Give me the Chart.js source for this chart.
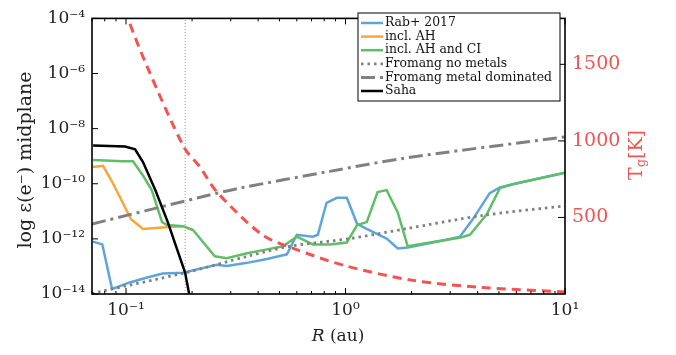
<!DOCTYPE html>
<html>
<head>
<meta charset="utf-8">
<script src="https://cdn.jsdelivr.net/npm/chart.js@4.4.0/dist/chart.umd.min.js"></script>
<style>
  html, body { margin: 0; padding: 0; background: #fff; }
</style>
</head>
<body>
<canvas id="mychart" width="676" height="355"></canvas>
<script>
// data (R in au, electron abundance as log10 values, T in K)
var rabR = [0.0707, 0.078, 0.0864, 0.104, 0.125, 0.147, 0.182, 0.259, 0.288, 0.356, 0.439, 0.541, 0.60, 0.71, 0.748, 0.82, 0.913, 1.014, 1.13, 1.39, 1.54, 1.73, 1.92, 2.89, 3.32, 3.8, 4.54, 5.05, 5.78, 6.9, 10];
var rabLogE = [-12.10, -12.20, -13.82, -13.58, -13.40, -13.26, -13.23, -12.94, -12.98, -12.87, -12.73, -12.56, -11.85, -11.92, -11.85, -10.69, -10.51, -10.51, -11.46, -11.82, -11.99, -12.35, -12.31, -12.03, -11.92, -11.29, -10.34, -10.13, -10.02, -9.88, -9.60];

var ahR = [0.0705, 0.0786, 0.0873, 0.1054, 0.1195, 0.155, 0.182, 0.202];
var ahLogE = [-9.39, -9.35, -9.99, -11.29, -11.64, -11.57, -11.54, -11.68];

var ciR = [0.0708, 0.097, 0.1076, 0.1195, 0.131, 0.146, 0.154, 0.182, 0.202, 0.254, 0.288, 0.356, 0.439, 0.519, 0.60, 0.71, 0.85, 1.014, 1.13, 1.25, 1.40, 1.54, 1.73, 1.92, 2.89, 3.32, 3.69, 4.40, 5.05, 5.78, 6.9, 10];
var ciLogE = [-9.14, -9.18, -9.18, -9.70, -10.23, -11.39, -11.50, -11.54, -11.68, -12.63, -12.70, -12.52, -12.38, -12.27, -11.92, -12.20, -12.20, -12.13, -11.50, -11.39, -10.30, -10.23, -11.04, -12.27, -12.03, -11.96, -11.85, -11.11, -10.16, -10.02, -9.88, -9.60];

var noMetR = [0.07, 0.0745, 0.186, 0.359, 0.557, 1.046, 1.86, 4.22, 10];
var noMetLogE = [-14.0, -13.93, -13.23, -12.63, -12.27, -11.99, -11.64, -11.15, -10.80];

var metR = [0.07, 0.213, 0.330, 0.848, 1.86, 10];
var metLogE = [-11.46, -10.51, -10.16, -9.55, -9.07, -8.30];

var sahaR = [0.0708, 0.099, 0.110, 0.1195, 0.136, 0.155, 0.186, 0.195, 0.2];
var sahaLogE = [-8.61, -8.65, -8.75, -9.21, -10.23, -11.39, -13.23, -14.1, -14.4];

var tempR = [0.095, 0.102, 0.125, 0.184, 0.217, 0.26, 0.417, 0.577, 1.0, 2.03, 4.07, 10];
var tempK = [1950, 1800, 1483, 957, 830, 665, 387, 298, 184, 89, 44, 13];

var markR = [0.186, 0.186];
var markLogE = [-14, -4];

var xMajor = [0.1, 1, 10];
var xMinor = [0.07, 0.08, 0.09, 0.2, 0.3, 0.4, 0.5, 0.6, 0.7, 0.8, 0.9, 2, 3, 4, 5, 6, 7, 8, 9];
var yMajor = [-14, -12, -10, -8, -6, -4];
var tMajor = [500, 1000, 1500];

var blue = '#5da5da';
var orange = '#faa43a';
var green = '#60bd68';
var abu = '#808080';
var merah = '#f55252';
var serif = 'DejaVu Serif';

function sup(n) {
  var map = {'-': '\u207b', '0': '\u2070', '1': '\u00b9', '2': '\u00b2', '3': '\u00b3', '4': '\u2074',
    '5': '\u2075', '6': '\u2076', '7': '\u2077', '8': '\u2078', '9': '\u2079'};
  return String(n).split('').map(function (c) { return map[c]; }).join('');
}

function pts(r, logE) {
  return r.map(function (v, i) { return {x: v, y: Math.pow(10, logE[i])}; });
}

function seg(c, x1, y1, x2, y2) {
  c.beginPath(); c.moveTo(x1, y1); c.lineTo(x2, y2); c.stroke();
}

// frame, inward ticks, axis titles and the boxed legend
var decor = {
  id: 'decor',
  afterDraw: function (chart) {
    var c = chart.ctx, a = chart.chartArea;
    var sx = chart.scales.x, sy = chart.scales.y, sT = chart.scales.yT;
    c.save();
    c.strokeStyle = '#000';
    c.lineWidth = 1;
    xMajor.forEach(function (v) {
      var p = sx.getPixelForValue(v);
      seg(c, p, a.bottom, p, a.bottom - 6); seg(c, p, a.top, p, a.top + 6);
    });
    xMinor.forEach(function (v) {
      var p = sx.getPixelForValue(v);
      seg(c, p, a.bottom, p, a.bottom - 3); seg(c, p, a.top, p, a.top + 3);
    });
    yMajor.forEach(function (v) {
      var p = sy.getPixelForValue(Math.pow(10, v));
      seg(c, a.left, p, a.left + 6, p);
    });
    tMajor.forEach(function (v) {
      var p = sT.getPixelForValue(v);
      seg(c, a.right, p, a.right - 7, p);
    });
    c.lineWidth = 1.6;
    c.strokeRect(a.left, a.top, a.right - a.left, a.bottom - a.top);

    // left title
    c.fillStyle = '#222';
    c.textBaseline = 'middle';
    c.save();
    c.translate(26, 160);
    c.rotate(-Math.PI / 2);
    c.font = '19px "' + serif + '"';
    c.textAlign = 'center';
    c.fillText('log \u03b5(e\u207b) midplane', 0, 0);
    c.restore();

    // bottom title
    c.font = 'italic 17px "' + serif + '"';
    var w1 = c.measureText('R').width;
    c.font = '17px "' + serif + '"';
    var w2 = c.measureText(' (au)').width;
    var x0 = 338 - (w1 + w2) / 2;
    c.textAlign = 'left';
    c.font = 'italic 17px "' + serif + '"';
    c.fillText('R', x0, 337);
    c.font = '17px "' + serif + '"';
    c.fillText(' (au)', x0 + w1, 337);

    // right title
    c.save();
    c.translate(637, 155);
    c.rotate(-Math.PI / 2);
    c.fillStyle = merah;
    c.font = '19px "' + serif + '"';
    var tw = c.measureText('T').width;
    var kw = c.measureText('[K]').width;
    c.font = '13px "' + serif + '"';
    var gw = c.measureText('g').width;
    var sx0 = -(tw + gw + kw) / 2;
    c.font = '19px "' + serif + '"';
    c.fillText('T', sx0, 0);
    c.font = '13px "' + serif + '"';
    c.fillText('g', sx0 + tw, 5);
    c.font = '19px "' + serif + '"';
    c.fillText('[K]', sx0 + tw + gw, 0);
    c.restore();

    // legend
    var lx = 358, ly = 13, lw = 202, lh = 88;
    c.fillStyle = '#fff';
    c.fillRect(lx, ly, lw, lh);
    c.strokeStyle = '#000';
    c.lineWidth = 1;
    c.strokeRect(lx, ly, lw, lh);
    c.font = '12.4px "' + serif + '"';
    c.fillStyle = '#111';
    var row = 0;
    chart.data.datasets.forEach(function (ds) {
      if (!ds.inLegend) return;
      var yy = ly + 10 + row * 13.6;
      c.save();
      c.strokeStyle = ds.borderColor;
      c.lineWidth = ds.borderWidth;
      c.setLineDash(ds.borderDash || []);
      seg(c, lx + 3, yy, lx + 25, yy);
      c.restore();
      c.fillText(ds.label, lx + 27, yy);
      row++;
    });
    c.restore();
  }
};

var ctx = document.getElementById('mychart').getContext('2d');
var myChart = new Chart(ctx, {
  type: 'line',
  data: {
    datasets: [
      {label: 'Rab+ 2017', data: pts(rabR, rabLogE), borderColor: blue, borderWidth: 2.5, yAxisID: 'y', order: 6, inLegend: true},
      {label: 'incl. AH', data: pts(ahR, ahLogE), borderColor: orange, borderWidth: 2.5, yAxisID: 'y', order: 5, inLegend: true},
      {label: 'incl. AH and CI', data: pts(ciR, ciLogE), borderColor: green, borderWidth: 2.5, yAxisID: 'y', order: 4, inLegend: true},
      {label: 'Fromang no metals', data: pts(noMetR, noMetLogE), borderColor: abu, borderWidth: 2.8, borderDash: [2.5, 4], tension: 0.3, yAxisID: 'y', order: 3, inLegend: true},
      {label: 'Fromang metal dominated', data: pts(metR, metLogE), borderColor: abu, borderWidth: 3, borderDash: [14, 5, 3, 5], tension: 0.3, yAxisID: 'y', order: 2, inLegend: true},
      {label: 'Saha', data: pts(sahaR, sahaLogE), borderColor: '#000', borderWidth: 2.5, yAxisID: 'y', order: 1, inLegend: true},
      {label: 'T', data: tempR.map(function (v, i) { return {x: v, y: tempK[i]}; }), borderColor: merah, borderWidth: 3, borderDash: [9, 6], tension: 0.3, yAxisID: 'yT', order: 0},
      {label: 'mark', data: pts(markR, markLogE), borderColor: '#999', borderWidth: 1, borderDash: [1, 2], yAxisID: 'y', order: 7}
    ]
  },
  options: {
    responsive: false,
    animation: false,
    layout: {padding: {top: 10}},
    elements: {point: {radius: 0}, line: {fill: false}},
    plugins: {legend: {display: false}, tooltip: {enabled: false}},
    scales: {
      x: {
        type: 'logarithmic', min: 0.07, max: 10,
        afterBuildTicks: function (s) { s.ticks = xMajor.map(function (v) { return {value: v}; }); },
        afterFit: function (s) { s.height = 61; },
        grid: {display: false, drawTicks: false}, border: {display: false},
        ticks: {
          autoSkip: false, maxRotation: 0, padding: 6, color: '#222',
          font: {family: serif, size: 17},
          callback: function (v) { return '10' + sup(Math.round(Math.log10(v))); }
        }
      },
      y: {
        type: 'logarithmic', position: 'left', min: 1e-14, max: 1e-4,
        afterBuildTicks: function (s) { s.ticks = yMajor.map(function (v) { return {value: Math.pow(10, v)}; }); },
        afterFit: function (s) { s.width = 92; },
        grid: {display: false, drawTicks: false}, border: {display: false},
        ticks: {
          autoSkip: false, padding: 7, color: '#222',
          font: {family: serif, size: 17},
          callback: function (v) { return '10' + sup(Math.round(Math.log10(v))); }
        }
      },
      yT: {
        type: 'linear', position: 'right', min: 0, max: 1800,
        afterBuildTicks: function (s) { s.ticks = tMajor.map(function (v) { return {value: v}; }); },
        afterFit: function (s) { s.width = 111; },
        grid: {display: false, drawTicks: false}, border: {display: false},
        ticks: {
          autoSkip: false, padding: 7, color: merah,
          font: {family: serif, size: 19},
          callback: function (v) { return String(v); }
        }
      }
    }
  },
  plugins: [decor]
});
</script>
</body>
</html>
